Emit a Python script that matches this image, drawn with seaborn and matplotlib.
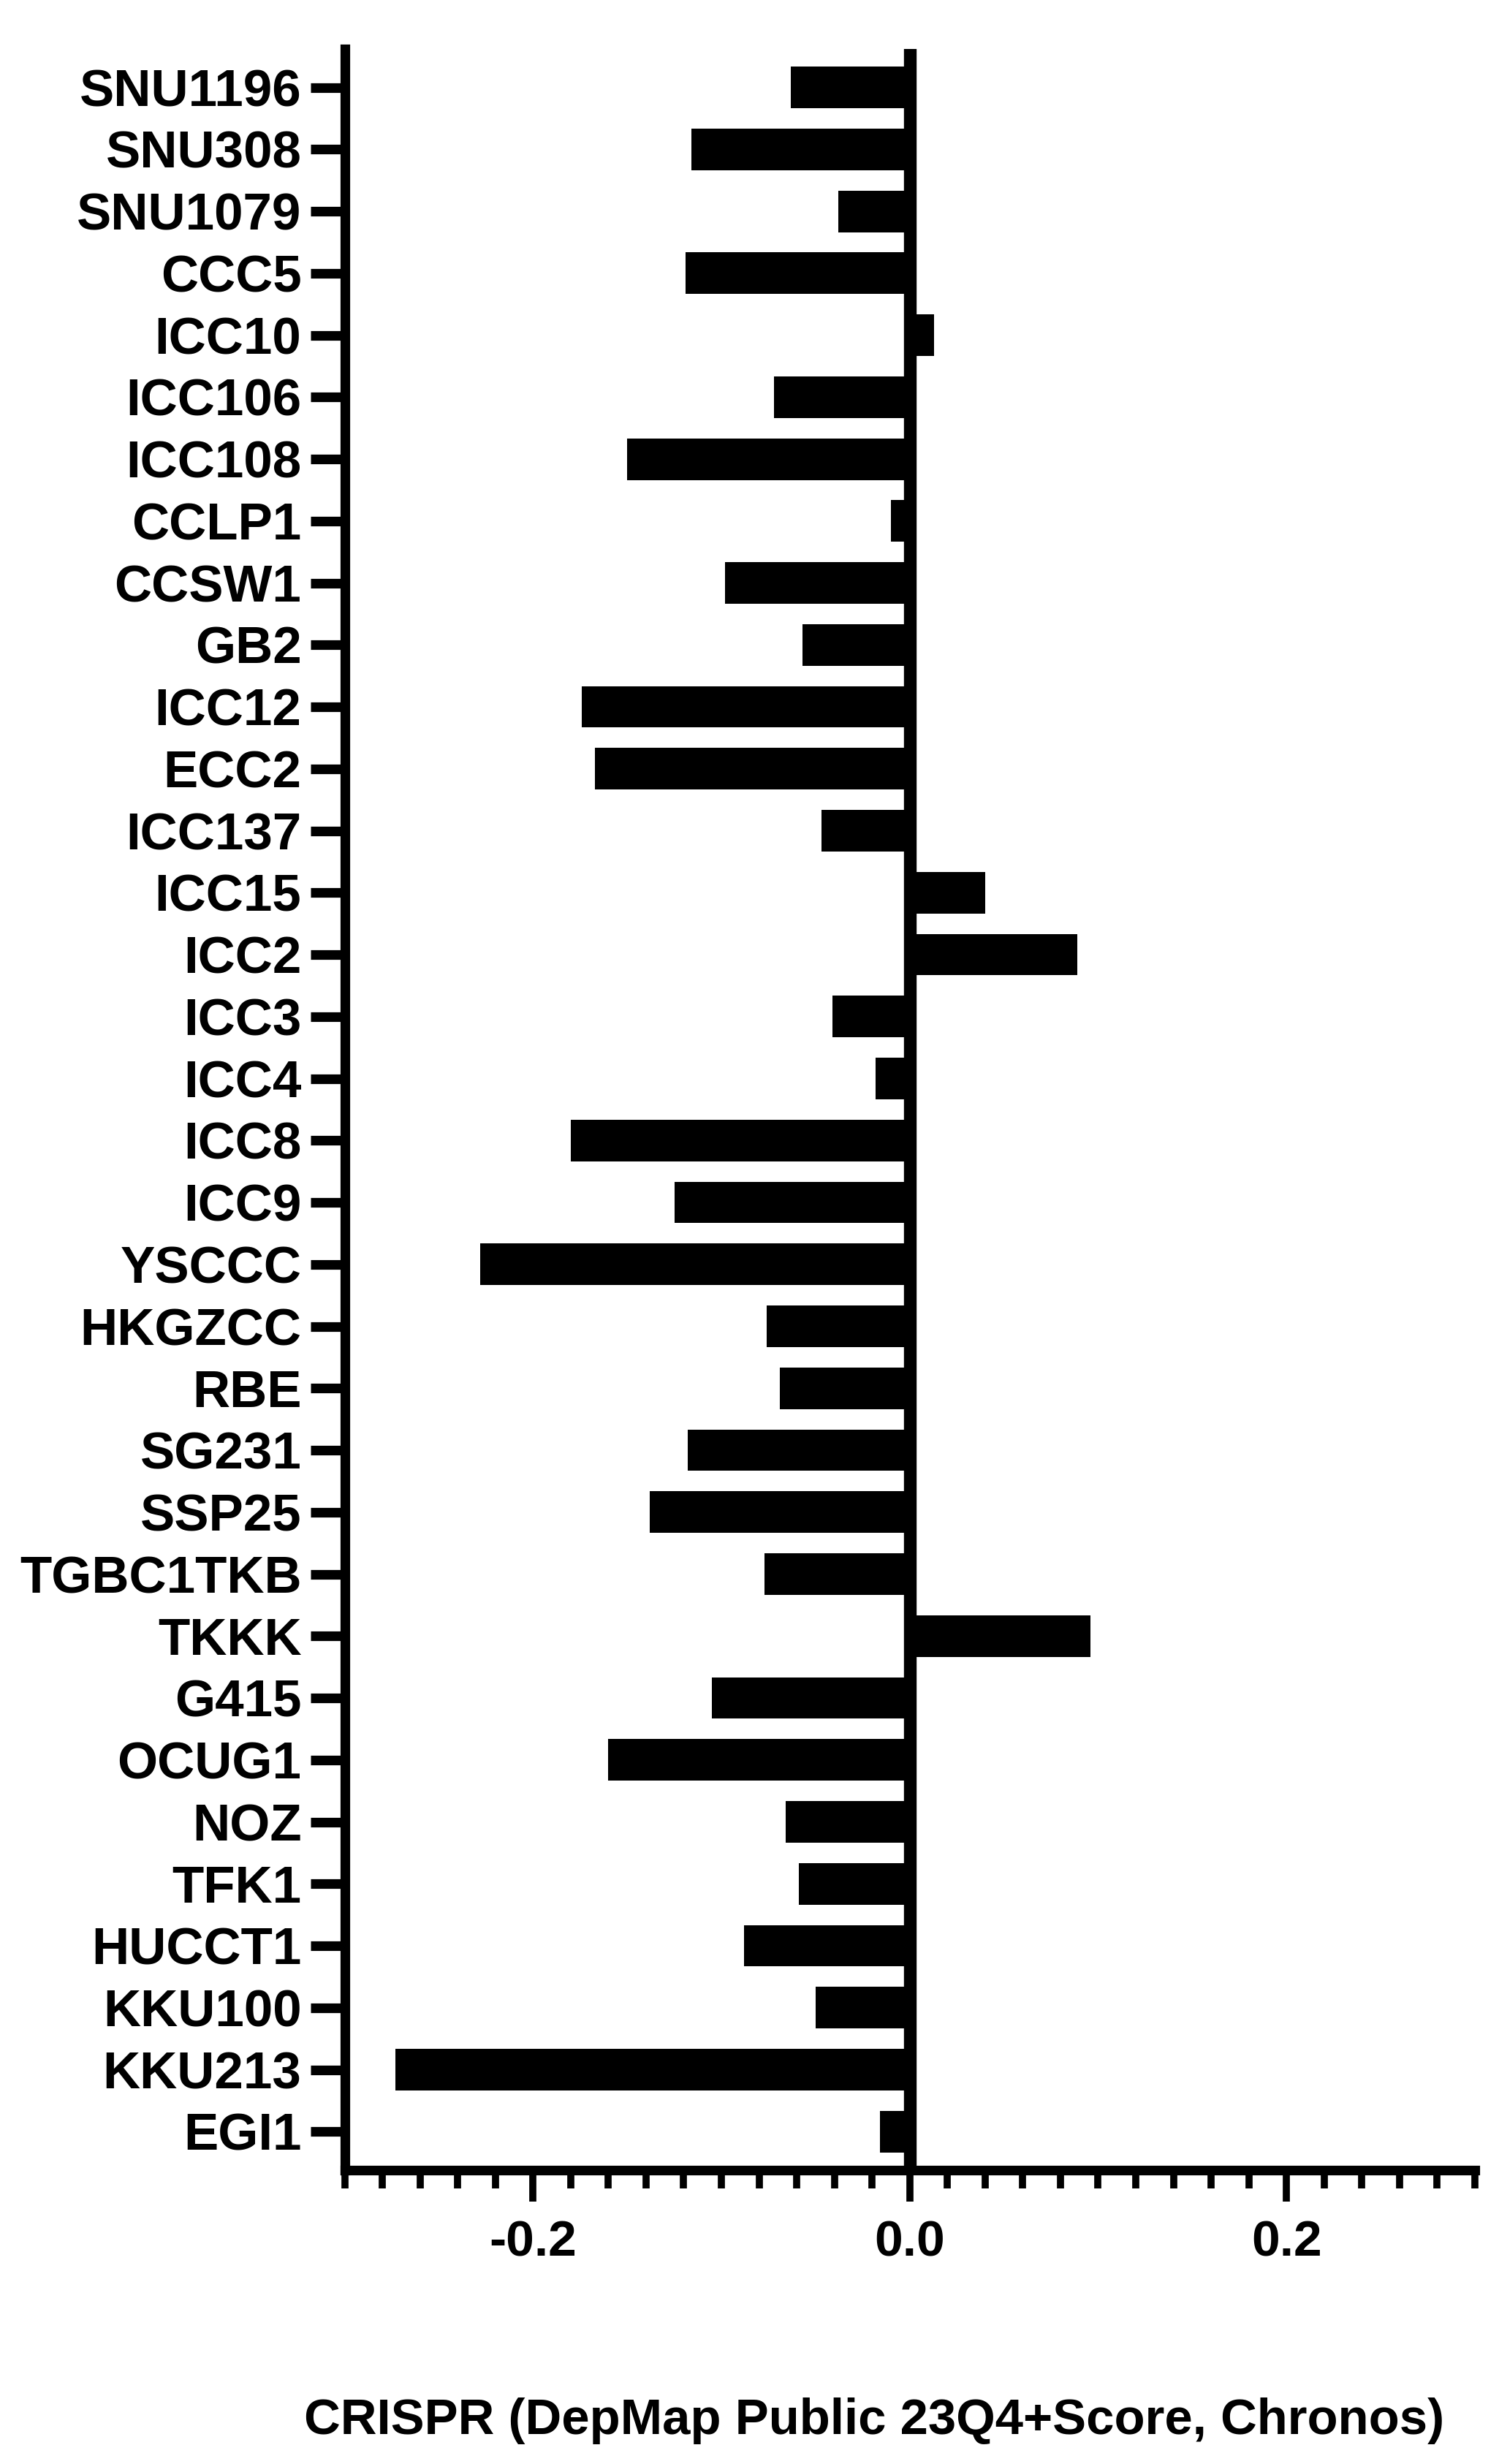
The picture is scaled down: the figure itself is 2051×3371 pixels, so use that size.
"""Horizontal bar chart of CRISPR Chronos scores per cell line."""

import matplotlib.pyplot as plt
from matplotlib.ticker import MultipleLocator
import seaborn as sns

cell_lines = [
    "SNU1196", "SNU308", "SNU1079", "CCC5", "ICC10", "ICC106", "ICC108",
    "CCLP1", "CCSW1", "GB2", "ICC12", "ECC2", "ICC137", "ICC15", "ICC2",
    "ICC3", "ICC4", "ICC8", "ICC9", "YSCCC", "HKGZCC", "RBE", "SG231",
    "SSP25", "TGBC1TKB", "TKKK", "G415", "OCUG1", "NOZ", "TFK1", "HUCCT1",
    "KKU100", "KKU213", "EGI1",
]
scores = [
    -0.063, -0.116, -0.038, -0.119, 0.013, -0.072, -0.150,
    -0.010, -0.098, -0.057, -0.174, -0.167, -0.047, 0.040, 0.089,
    -0.041, -0.018, -0.180, -0.125, -0.228, -0.076, -0.069, -0.118,
    -0.138, -0.077, 0.096, -0.105, -0.160, -0.066, -0.059, -0.088,
    -0.050, -0.273, -0.016,
]
x_label = "CRISPR (DepMap Public 23Q4+Score, Chronos)"

sns.set_theme(style="ticks")
plt.rcParams["font.family"] = ["Liberation Sans", "DejaVu Sans"]
plt.rcParams["font.weight"] = "bold"

fig = plt.figure(figsize=(20.51, 33.71), dpi=100)
ax = fig.add_axes([0.2299, 0.1193, 0.7540, 0.8608])

sns.barplot(
    x=scores,
    y=cell_lines,
    orient="h",
    color="black",
    saturation=1,
    width=0.67,
    linewidth=0,
    ax=ax,
)

# thick zero reference line running the full height
ax.axvline(0, color="black", linewidth=12.5, zorder=5)

ax.set_xlim(-0.3, 0.3)
ax.set_ylim(33.62, -0.62)
ax.xaxis.set_major_locator(MultipleLocator(0.2))
ax.xaxis.set_minor_locator(MultipleLocator(0.02))
ax.set_xticks([-0.2, 0.0, 0.2])
ax.set_xticklabels(["-0.2", "0.0", "0.2"])

for side in ["top", "right"]:
    ax.spines[side].set_visible(False)
for side in ["left", "bottom"]:
    ax.spines[side].set_linewidth(9.5)
    ax.spines[side].set_color("black")

ax.tick_params(axis="x", which="major", length=31, width=7, pad=18,
               labelsize=50, colors="black", direction="out")
ax.tick_params(axis="x", which="minor", length=18, width=7,
               colors="black", direction="out")
ax.tick_params(axis="y", which="major", length=33.5, width=9.5, pad=9,
               labelsize=51, colors="black", direction="out")
for lbl in ax.get_xticklabels() + ax.get_yticklabels():
    lbl.set_fontweight("bold")

ax.set_xlabel("")
ax.set_ylabel("")

fig.text(0.583, 0.0122, x_label, ha="center", va="baseline",
         fontsize=49.6, fontweight="bold", color="black")

fig.savefig("out.png", dpi=100, facecolor="white")
